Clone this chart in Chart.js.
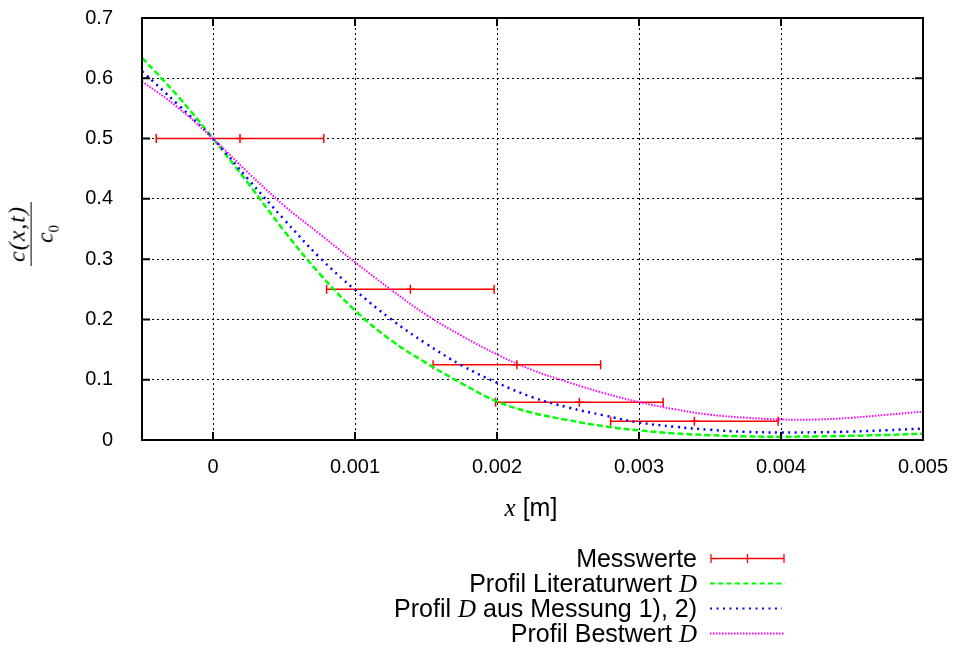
<!DOCTYPE html>
<html>
<head>
<meta charset="utf-8">
<script src="https://cdn.jsdelivr.net/npm/chart.js@4.4.1/dist/chart.umd.min.js"></script>
<style>
  html, body { margin: 0; padding: 0; background: #fff; }
  #wrap { position: relative; width: 957px; height: 650px; font-family: "Liberation Sans", Arial, sans-serif; color: #000; }
  #chart { position: absolute; left: 0; top: 0; }
  .m { font-family: "Liberation Serif", "DejaVu Serif", serif; font-style: italic; }
  #xtitle { position: absolute; left: 431px; width: 200px; top: 493px; text-align: center; font-size: 25px; line-height: 28px; }
  #ytitle { position: absolute; left: 33px; top: 234px; transform: translate(-50%, -50%) rotate(-90deg);
            display: flex; flex-direction: column; align-items: center; font-size: 24px; line-height: 1; }
  #ytitle .num { padding: 0 4px 2px; border-bottom: 1.3px solid #000; white-space: nowrap; letter-spacing: 1px; }
  #ytitle .den { padding-top: 1px; white-space: nowrap; }
  #ytitle sub { font-family: "Liberation Serif", serif; font-style: normal; font-size: 15px; }
  #legend { position: absolute; left: 285px; top: 546px; width: 500px; }
  .row { display: flex; height: 25px; align-items: center; justify-content: flex-end; }
  .lbl { font-size: 25px; white-space: nowrap; }
  .sample { width: 75px; height: 25px; margin-left: 13px; display: block; flex: none; }
</style>
</head>
<body>
<div id="wrap">
  <canvas id="chart" width="957" height="650"></canvas>
  <div id="xtitle"><span class="m">x</span> [m]</div>
  <div id="ytitle"><span class="num m">c(x,t)</span><span class="den"><span class="m">c</span><sub>0</sub></span></div>
  <div id="legend">
    <div class="row"><span class="lbl">Messwerte</span>
      <svg class="sample" viewBox="0 0 75 25"><g stroke="#ff0000" stroke-width="1.3"><line x1="1" y1="12.5" x2="74" y2="12.5"/><line x1="1" y1="8" x2="1" y2="17"/><line x1="37.5" y1="8" x2="37.5" y2="17"/><line x1="74" y1="8" x2="74" y2="17"/></g></svg></div>
    <div class="row"><span class="lbl">Profil Literaturwert <span class="m">D</span></span>
      <svg class="sample" viewBox="0 0 75 25"><line x1="0" y1="12.5" x2="75" y2="12.5" stroke="#00ff00" stroke-width="2" stroke-dasharray="5 3.3"/></svg></div>
    <div class="row"><span class="lbl">Profil <span class="m">D</span> aus Messung 1), 2)</span>
      <svg class="sample" viewBox="0 0 75 25"><line x1="0" y1="12.5" x2="72" y2="12.5" stroke="#0000ff" stroke-width="2" stroke-dasharray="2 4.5"/></svg></div>
    <div class="row"><span class="lbl">Profil Bestwert <span class="m">D</span></span>
      <svg class="sample" viewBox="0 0 75 25"><line x1="0" y1="12.5" x2="75" y2="12.5" stroke="#ff00ff" stroke-width="2" stroke-dasharray="1.5 1.5"/></svg></div>
  </div>
</div>
<script>
// tick positions and labels
const xTickVals = [0, 0.001, 0.002, 0.003, 0.004, 0.005];
const xTickLabels = ["0", "0.001", "0.002", "0.003", "0.004", "0.005"];
const yTickVals = [0, 0.1, 0.2, 0.3, 0.4, 0.5, 0.6, 0.7];
const yTickLabels = ["0", "0.1", "0.2", "0.3", "0.4", "0.5", "0.6", "0.7"];

// Messwerte with horizontal error bars
const measX = [0.00019, 0.00139, 0.00214, 0.00258, 0.00339];
const measXLow = [-0.0004, 0.0008, 0.00155, 0.00199, 0.0028];
const measXHigh = [0.00078, 0.00198, 0.00273, 0.00317, 0.00398];
const measY = [0.5, 0.25, 0.125, 0.0625, 0.03125];

// profiles
const xProfile = [-0.0005, -0.00025, 0, 0.00025, 0.0005, 0.00075, 0.001, 0.00125, 0.0015, 0.00175,
  0.002, 0.00225, 0.0025, 0.00275, 0.003, 0.00325, 0.0035, 0.00375, 0.004, 0.00425, 0.0045, 0.00475, 0.005];
const yLiteratur = [0.634, 0.571, 0.5, 0.425, 0.347, 0.276, 0.215, 0.166, 0.128, 0.094,
  0.064, 0.045, 0.033, 0.023, 0.016, 0.011, 0.008, 0.006, 0.0055, 0.006, 0.007, 0.0085, 0.0105];
const yMessung = [0.612, 0.557, 0.5, 0.432, 0.366, 0.303, 0.249, 0.201, 0.160, 0.124,
  0.095, 0.071, 0.054, 0.041, 0.029, 0.022, 0.017, 0.0135, 0.0125, 0.0128, 0.014, 0.0163, 0.019];
const yBestwert = [0.595, 0.552, 0.5, 0.443, 0.389, 0.342, 0.295, 0.250, 0.208, 0.173,
  0.142, 0.116, 0.096, 0.078, 0.063, 0.051, 0.042, 0.037, 0.034, 0.034, 0.037, 0.042, 0.047];

const pts = (xs, ys) => xs.map((x, i) => ({ x, y: ys[i] }));

// horizontal error bars from the x scale
const errorBars = {
  id: "errorBars",
  beforeDatasetsDraw(chart) {
    const { ctx, scales: { x, y } } = chart;
    ctx.save();
    ctx.strokeStyle = "#ff0000";
    ctx.lineWidth = 1.5;
    measY.forEach((v, i) => {
      const py = y.getPixelForValue(v);
      const p1 = x.getPixelForValue(measXLow[i]);
      const p2 = x.getPixelForValue(measXHigh[i]);
      ctx.beginPath();
      ctx.moveTo(p1, py); ctx.lineTo(p2, py);
      ctx.moveTo(p1, py - 4.5); ctx.lineTo(p1, py + 4.5);
      ctx.moveTo(p2, py - 4.5); ctx.lineTo(p2, py + 4.5);
      ctx.stroke();
    });
    ctx.restore();
  },
};

// gnuplot-like frame with inward, mirrored ticks
const frame = {
  id: "frame",
  afterDraw(chart) {
    const { ctx, chartArea: a, scales: { x, y } } = chart;
    const len = 8;
    ctx.save();
    ctx.strokeStyle = "#000";
    ctx.lineWidth = 2;
    ctx.beginPath();
    xTickVals.forEach((v) => {
      const px = x.getPixelForValue(v);
      ctx.moveTo(px, a.bottom); ctx.lineTo(px, a.bottom - len);
      ctx.moveTo(px, a.top); ctx.lineTo(px, a.top + len);
    });
    yTickVals.forEach((v) => {
      const py = y.getPixelForValue(v);
      ctx.moveTo(a.left, py); ctx.lineTo(a.left + len, py);
      ctx.moveTo(a.right, py); ctx.lineTo(a.right - len, py);
    });
    ctx.stroke();
    ctx.strokeRect(a.left, a.top, a.right - a.left, a.bottom - a.top);
    ctx.restore();
  },
};

Chart.defaults.font.family = "'Liberation Sans', Arial, sans-serif";
Chart.defaults.font.size = 20;
Chart.defaults.color = "#000";

const curve = { showLine: true, pointRadius: 0, tension: 0.4 };

new Chart(document.getElementById("chart"), {
  type: "scatter",
  data: {
    datasets: [
      {
        label: "Messwerte",
        data: pts(measX, measY),
        pointStyle: "cross",
        pointRadius: 4.5,
        borderColor: "#ff0000",
        borderWidth: 1.5,
        showLine: false,
        order: 0,
      },
      {
        ...curve,
        label: "Profil Literaturwert D",
        data: pts(xProfile, yLiteratur),
        borderColor: "#00ff00",
        borderWidth: 2.5,
        borderDash: [6, 3],
        order: 3,
      },
      {
        ...curve,
        label: "Profil D aus Messung 1), 2)",
        data: pts(xProfile, yMessung),
        borderColor: "#0000ff",
        borderWidth: 2.5,
        borderDash: [2, 4.5],
        order: 2,
      },
      {
        ...curve,
        label: "Profil Bestwert D",
        data: pts(xProfile, yBestwert),
        borderColor: "#ff00ff",
        borderWidth: 2,
        borderDash: [1.5, 1.5],
        order: 1,
      },
    ],
  },
  options: {
    responsive: false,
    animation: false,
    layout: { padding: { left: 0, right: 34, top: 18, bottom: 170 } },
    plugins: { legend: { display: false }, tooltip: { enabled: false } },
    scales: {
      x: {
        type: "linear",
        min: -0.0005,
        max: 0.005,
        afterBuildTicks: (s) => { s.ticks = xTickVals.map((v) => ({ value: v })); },
        afterFit: (s) => { s.height = 40; s.paddingLeft = 0; s.paddingRight = 0; },
        ticks: { padding: 15, maxRotation: 0, callback: (v, i) => xTickLabels[i] },
        grid: { color: "#000", lineWidth: 1, drawTicks: false },
        border: { display: false, dash: [2, 3] },
      },
      y: {
        type: "linear",
        min: 0,
        max: 0.7,
        afterBuildTicks: (s) => { s.ticks = yTickVals.map((v) => ({ value: v })); },
        afterFit: (s) => { s.width = 142; s.paddingTop = 12; s.paddingBottom = 12; },
        ticks: { padding: 29, callback: (v, i) => yTickLabels[i] },
        grid: { color: "#000", lineWidth: 1, drawTicks: false },
        border: { display: false, dash: [2, 3] },
      },
    },
  },
  plugins: [errorBars, frame],
});
</script>
</body>
</html>
